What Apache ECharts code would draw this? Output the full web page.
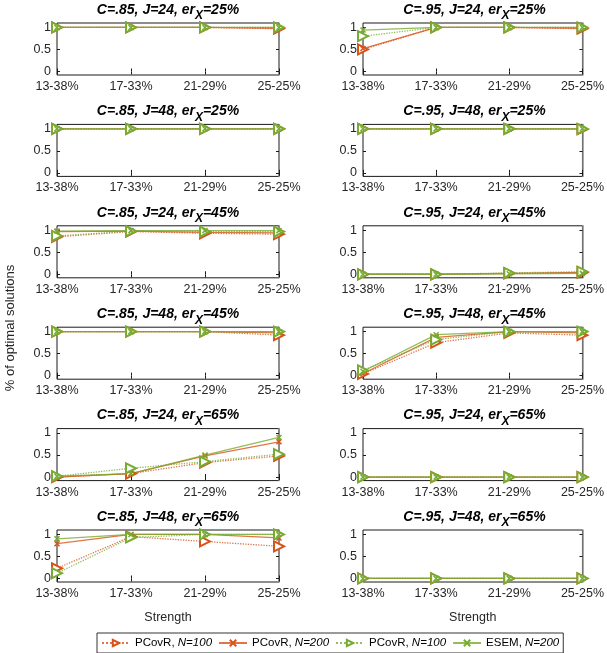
<!DOCTYPE html>
<html>
<head>
<meta charset="utf-8">
<script src="https://cdn.jsdelivr.net/npm/echarts@6/dist/echarts.min.js"></script>
<style>
  html, body { margin: 0; padding: 0; background: #fff; }
  #chart { width: 607px; height: 653px; }
</style>
</head>
<body>
<div id="chart"></div>
<script>
// strength conditions
const categories = ['13-38%', '17-33%', '21-29%', '25-25%']
// panel titles, row by row (left, right)
const panelC = ['.85', '.95', '.85', '.95', '.85', '.95', '.85', '.95', '.85', '.95', '.85', '.95']
const panelJ = ['24', '24', '48', '48', '24', '24', '48', '48', '24', '24', '48', '48']
const panelEr = ['25%', '25%', '25%', '25%', '45%', '45%', '45%', '45%', '65%', '65%', '65%', '65%']

// proportion of optimal solutions, one array per panel
const pcovr100 = [
  [1, 1, 1, 0.97], [0.5, 1, 1, 0.97],
  [1, 1, 1, 1], [1, 1, 1, 0.99],
  [0.85, 0.97, 0.93, 0.91], [0, 0, 0.02, 0.04],
  [1, 1, 1, 0.92], [0.04, 0.75, 0.97, 0.92],
  [0, 0.08, 0.33, 0.48], [0, 0, 0, 0],
  [0.23, 0.95, 0.84, 0.73], [0, 0, 0, 0]
]
const pcovr200 = [
  [1, 1, 1, 0.98], [0.52, 1, 1, 0.98],
  [1, 1, 1, 1], [1, 1, 1, 1],
  [0.97, 0.98, 0.95, 0.94], [0, 0, 0.02, 0.04],
  [1, 1, 1, 0.97], [0.05, 0.87, 1, 0.97],
  [0, 0.08, 0.48, 0.8], [0, 0, 0, 0],
  [0.79, 1, 1, 0.92], [0, 0, 0, 0]
]
const esem100 = [
  [1, 1, 1, 1], [0.8, 1, 1, 1],
  [1, 1, 1, 1], [1, 1, 1, 1],
  [0.87, 0.98, 0.97, 0.97], [0, 0, 0.03, 0.06],
  [1, 1, 1, 1], [0.12, 0.82, 1, 1],
  [0.02, 0.2, 0.35, 0.52], [0, 0, 0, 0],
  [0.12, 0.93, 1, 1], [0, 0, 0, 0]
]
const esem200 = [
  [1, 1, 1, 1], [0.94, 1, 1, 1],
  [1, 1, 1, 1], [1, 1, 1, 1],
  [0.98, 0.99, 0.99, 0.99], [0, 0, 0.01, 0.02],
  [1, 1, 1, 1], [0.1, 0.93, 1, 1],
  [0.02, 0.08, 0.5, 0.9], [0, 0, 0, 0],
  [0.9, 1, 1, 1], [0, 0, 0, 0]
]
const yTicks = [0, 0.5, 1]
const legendLabels = [['PCovR, ', 'N=100'], ['PCovR, ', 'N=200'], ['PCovR, ', 'N=100'], ['ESEM, ', 'N=200']]

let orange = '#D95319'
let green = '#77AC30'
let textColor = '#262626'
let font = 'Liberation Sans, Arial, sans-serif'
let cross = 'path://M0,0L10,10M10,0L0,10'

let seriesDefs = [
  { name: 'a', data: pcovr100, color: orange, type: 'dotted', symbol: 'emptyTriangle', size: 10, rotate: -90 },
  { name: 'b', data: pcovr200, color: orange, type: 'solid', symbol: cross, size: 5, rotate: 0 },
  { name: 'c', data: esem100, color: green, type: 'dotted', symbol: 'emptyTriangle', size: 10, rotate: -90 },
  { name: 'd', data: esem200, color: green, type: 'solid', symbol: cross, size: 5, rotate: 0 },
]

let colLeft = [57, 363]
let colWidth = [222, 223]
function rowTop(r) {
  return 23 + r * 101.4
}
let gridH = 52

let grid = []
let xAxis = []
let yAxis = []
let title = []
let series = []

for (let p = 0; p < 12; p++) {
  let r = Math.floor(p / 2)
  let c = p % 2
  let top = rowTop(r)
  grid.push({
    left: colLeft[c],
    width: colWidth[c],
    top: top,
    height: gridH,
    show: true,
    borderColor: '#1a1a1a',
    borderWidth: 1,
    backgroundColor: '#fff',
  })
  title.push({
    text: '{t|C=' + panelC[p] + ', J=' + panelJ[p] + ', er}{s|X}{t|=' + panelEr[p] + '}',
    left: colLeft[c] + colWidth[c] / 2,
    textAlign: 'center',
    top: top - 25,
    padding: 0,
    textStyle: {
      rich: {
        t: { fontSize: 14, fontWeight: 'bold', fontStyle: 'italic', fontFamily: font, color: '#000' },
        s: { fontSize: 12, fontWeight: 'bold', fontStyle: 'italic', fontFamily: font, color: '#000', padding: [12, 0, 0, 0] },
      },
    },
  })
  // bottom x axis with labels
  xAxis.push({
    gridIndex: p,
    type: 'category',
    data: categories,
    boundaryGap: false,
    position: 'bottom',
    axisLine: { show: false },
    axisTick: { show: true, inside: true, length: 3, lineStyle: { color: '#1a1a1a' } },
    axisLabel: { color: textColor, fontSize: 12.5, fontFamily: font, margin: 5, interval: 0 },
    splitLine: { show: false },
    name: r === 5 ? 'Strength' : '',
    nameLocation: 'middle',
    nameGap: 29,
    nameTextStyle: { color: textColor, fontSize: 12.5, fontFamily: font },
  })
  // top x axis, ticks only
  xAxis.push({
    gridIndex: p,
    type: 'category',
    data: categories,
    boundaryGap: false,
    position: 'top',
    axisLine: { show: false },
    axisTick: { show: true, inside: true, length: 3, lineStyle: { color: '#1a1a1a' } },
    axisLabel: { show: false },
    splitLine: { show: false },
  })
  yAxis.push({
    gridIndex: p,
    type: 'value',
    min: -0.08,
    max: 1.1,
    position: 'left',
    axisLine: { show: false },
    axisTick: { show: true, inside: true, length: 3, customValues: yTicks, lineStyle: { color: '#1a1a1a' } },
    axisLabel: { color: textColor, fontSize: 12.5, fontFamily: font, margin: 6, customValues: yTicks },
    splitLine: { show: false },
  })
  yAxis.push({
    gridIndex: p,
    type: 'value',
    min: -0.08,
    max: 1.1,
    position: 'right',
    axisLine: { show: true, lineStyle: { color: '#8c8c8c', width: 1.5 } },
    axisTick: { show: true, inside: true, length: 3, customValues: yTicks, lineStyle: { color: '#1a1a1a' } },
    axisLabel: { show: false },
    splitLine: { show: false },
  })
  seriesDefs.forEach((s) => {
    series.push({
      name: s.name,
      type: 'line',
      xAxisIndex: p * 2,
      yAxisIndex: p * 2,
      data: s.data[p],
      symbol: s.symbol,
      symbolSize: s.size,
      symbolRotate: s.rotate,
      showAllSymbol: true,
      lineStyle: { color: s.color, width: 1.3, type: s.type, opacity: 0.8 },
      itemStyle: { color: s.color, borderColor: s.color, borderWidth: 1.5 },
      emphasis: { disabled: true },
      animation: false,
    })
  })
}

let chart = echarts.init(document.getElementById('chart'))
chart.setOption({
  animation: false,
  title: title,
  grid: grid,
  xAxis: xAxis,
  yAxis: yAxis,
  series: series,
  legend: {
    data: ['a', 'b', 'c', 'd'],
    left: 97,
    top: 633,
    width: 540,
    padding: [4, 4, 4, 4],
    itemGap: 6,
    itemWidth: 28,
    itemHeight: 8,
    borderColor: '#000',
    borderWidth: 0.8,
    formatter: function (name) {
      let i = ['a', 'b', 'c', 'd'].indexOf(name)
      return '{n|' + legendLabels[i][0] + '}{i|' + legendLabels[i][1] + '}'
    },
    textStyle: {
      rich: {
        n: { fontSize: 11.5, fontFamily: font, color: '#000' },
        i: { fontSize: 11.5, fontFamily: font, fontStyle: 'italic', color: '#000' },
      },
    },
  },
  graphic: [
    {
      type: 'text',
      x: 10,
      y: 328,
      rotation: Math.PI / 2,
      style: {
        text: '% of optimal solutions',
        fill: textColor,
        fontSize: 13,
        fontFamily: font,
        align: 'center',
        verticalAlign: 'middle',
      },
    },
  ],
})
</script>
</body>
</html>
